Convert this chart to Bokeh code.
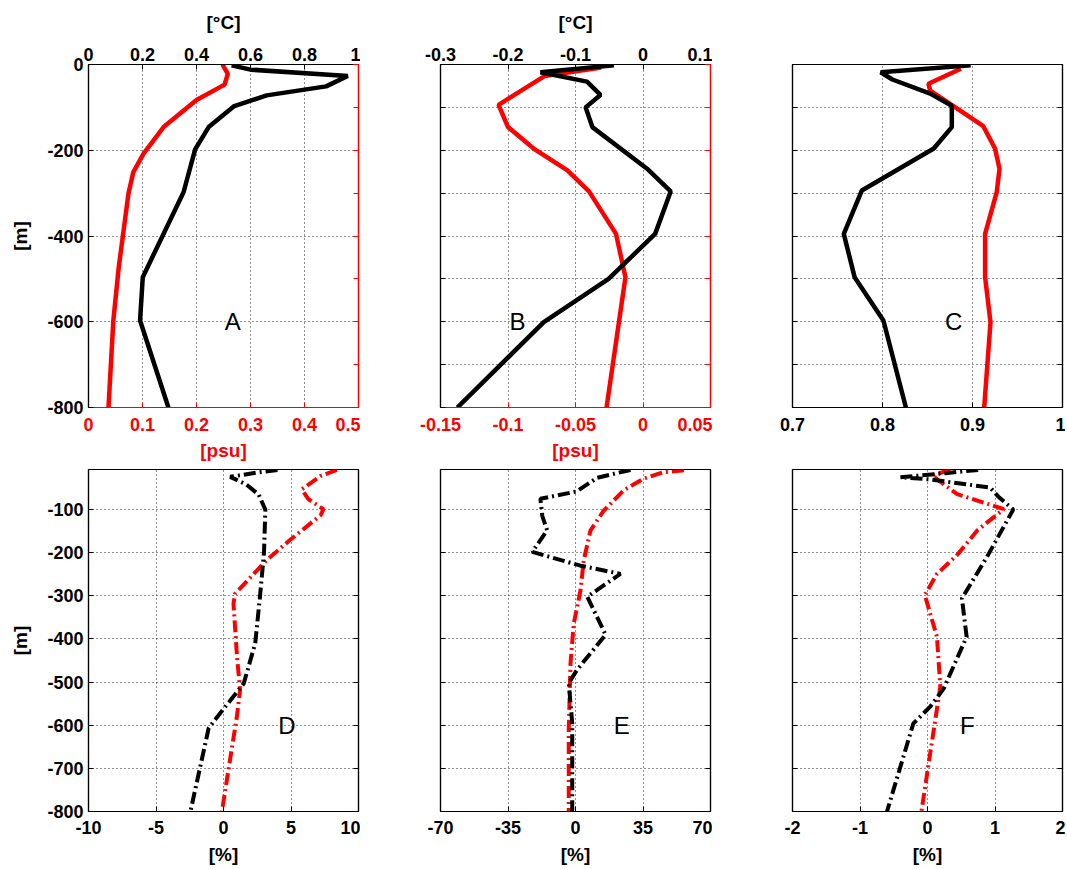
from bokeh.plotting import figure
from bokeh.models import Range1d, LinearAxis, FixedTicker, CustomJSTickFormatter, Label
from bokeh.layouts import row, column
from bokeh.embed import file_html
from bokeh.resources import INLINE

FONT = "Liberation Sans"

# ---------------- data ----------------
# Panel A
a_t_depth = [-2, -12, -27, -51, -72, -97, -146, -198, -298, -496, -597, -800]
a_t = [0.53, 0.60, 0.96, 0.88, 0.66, 0.54, 0.445, 0.395, 0.352, 0.201, 0.191, 0.296]
a_s_depth = [0, -22, -47, -83, -146, -208, -251, -301, -473, -597, -800]
a_s = [0.248, 0.258, 0.252, 0.200, 0.139, 0.102, 0.083, 0.074, 0.056, 0.046, 0.037]
# Panel B
b_t_depth = [-2, -18, -40, -71, -100, -146, -243, -296, -395, -500, -601, -800]
b_t = [-0.043, -0.152, -0.083, -0.063, -0.085, -0.075, 0.006, 0.041, 0.018, -0.051, -0.147, -0.275]
b_s_depth = [-7, -27, -94, -146, -196, -247, -296, -395, -496, -800]
b_s = [-0.031, -0.073, -0.107, -0.100, -0.081, -0.056, -0.040, -0.020, -0.013, -0.027]
# Panel C
c_t_depth = [-2, -18, -35, -68, -96, -146, -196, -294, -395, -496, -597, -800]
c_t = [0.898, 0.798, 0.811, 0.853, 0.877, 0.877, 0.857, 0.777, 0.757, 0.769, 0.801, 0.826]
c_s_depth = [-10, -45, -61, -96, -144, -196, -243, -297, -395, -496, -601, -800]
c_s = [0.887, 0.851, 0.853, 0.878, 0.912, 0.925, 0.930, 0.927, 0.914, 0.914, 0.920, 0.913]
# Panel D
d_k_depth = [-8, -14, -24, -42, -65, -100, -200, -302, -410, -503, -590, -607, -800]
d_k = [4.0, 2.5, 0.5, 1.7, 2.6, 3.1, 3.0, 2.7, 2.35, 1.5, -0.7, -1.1, -2.45]
d_r_depth = [-8, -22, -53, -76, -99, -113, -171, -217, -295, -318, -441, -518, -580, -800]
d_r = [8.4, 7.2, 5.8, 6.3, 7.4, 7.2, 4.9, 3.2, 0.86, 0.74, 1.0, 1.23, 0.99, -0.12]
# Panel E
e_k_depth = [-8, -26, -58, -75, -115, -148, -198, -230, -249, -302, -390, -471, -502, -595, -800]
e_k = [28.5, 11.3, 0.5, -18.2, -17.2, -14.7, -22.4, 2.6, 23.3, 6.1, 15.6, 0.9, -3.5, -1.7, -1.7]
e_r_depth = [-9, -13, -28, -55, -102, -148, -217, -287, -364, -457, -611, -800]
e_r = [56.2, 45.8, 35.4, 25.1, 14.7, 7.8, 4.3, 2.6, -0.9, -2.6, -3.5, -3.5]
# Panel F
f_k_depth = [-8, -15, -25, -30, -49, -70, -100, -210, -306, -395, -515, -557, -596, -800]
f_k = [0.75, 0.3, -0.4, 0.04, 0.93, 1.05, 1.27, 0.88, 0.51, 0.58, 0.24, 0.04, -0.21, -0.60]
f_r_depth = [-8, -20, -33, -64, -99, -148, -205, -249, -298, -395, -511, -665, -800]
f_r = [0.34, 0.07, 0.17, 0.44, 1.13, 0.74, 0.44, 0.14, -0.04, 0.14, 0.19, 0.04, -0.09]

# tick values
a_top_ticks = [0, 0.2, 0.4, 0.6, 0.8, 1]
a_bot_ticks = [0, 0.1, 0.2, 0.3, 0.4, 0.5]
b_top_ticks = [-0.3, -0.2, -0.1, 0, 0.1]
b_bot_ticks = [-0.15, -0.1, -0.05, 0, 0.05]
c_bot_ticks = [0.7, 0.8, 0.9, 1]
d_ticks = [-10, -5, 0, 5, 10]
e_ticks = [-70, -35, 0, 35, 70]
f_ticks = [-2, -1, 0, 1, 2]
depth_ticks_200 = [0, -200, -400, -600, -800]
depth_ticks_100 = [0, -100, -200, -300, -400, -500, -600, -700, -800]
depth_ticks_low = [-100, -200, -300, -400, -500, -600, -700, -800]

RED = "#ff0000"
FMT = "return String(Math.round(tick*1000)/1000);"


def style_axis(ax, ticks, color="black", standoff=6):
    ax.ticker = FixedTicker(ticks=ticks)
    ax.formatter = CustomJSTickFormatter(code=FMT)
    ax.axis_line_color = color
    ax.axis_line_width = 1.2
    ax.major_tick_line_color = color
    ax.major_tick_in = 5
    ax.major_tick_out = 0
    ax.minor_tick_line_color = None
    ax.major_label_text_font = FONT
    ax.major_label_text_font_style = "bold"
    ax.major_label_text_font_size = "18px"
    ax.major_label_text_color = color
    ax.major_label_standoff = standoff
    ax.axis_label_text_font = FONT
    ax.axis_label_text_font_style = "bold"
    ax.axis_label_text_font_size = "19px"
    ax.axis_label_text_color = color


def plain_axis(ax, minor, color="black"):
    # axis line with inward tick marks only (no tick labels)
    ax.ticker = FixedTicker(ticks=[], minor_ticks=minor)
    ax.axis_line_color = color
    ax.axis_line_width = 1.2
    ax.major_tick_line_color = None
    ax.minor_tick_line_color = color
    ax.minor_tick_in = 5
    ax.minor_tick_out = 0
    ax.major_label_standoff = 0


def make_fig(width, height, xr, yr, bl, br, bt, bb, ygrid_ticks):
    p = figure(width=width, height=height, x_range=Range1d(*xr), y_range=Range1d(*yr),
               output_backend="svg", toolbar_location=None,
               min_border_left=bl, min_border_right=br, min_border_top=bt, min_border_bottom=bb)
    p.outline_line_color = "black"
    p.outline_line_width = 1.2
    p.ygrid[0].ticker = FixedTicker(ticks=ygrid_ticks)
    for g in (p.xgrid[0], p.ygrid[0]):
        g.grid_line_dash = "1 3"
        g.grid_line_color = "#222222"
        g.grid_line_width = 1
    p.background_fill_color = "white"
    p.border_fill_color = "white"
    return p


def add_label(p, x, y, txt):
    p.add_layout(Label(x=x, y=y, text=txt, text_font=FONT, text_font_size="24px",
                       text_align="center", text_baseline="middle", text_color="black"))


TOP_H, BOT_H = 463, 404
W1, W2, W3 = 360, 352, 353

# ---------- Panel A ----------
pa = make_fig(W1, TOP_H, (0, 0.5), (-800, 0), 88, 2, 64, 56, depth_ticks_200)
pa.extra_x_ranges = {"t": Range1d(0, 1)}
style_axis(pa.xaxis[0], a_bot_ticks, RED, standoff=10)
pa.xaxis[0].axis_label = "[psu]"
pa.xaxis[0].axis_label_standoff = 6
style_axis(pa.yaxis[0], depth_ticks_200, standoff=5)
pa.yaxis[0].axis_label = "[m]"
pa.yaxis[0].axis_label_standoff = 13
ta = LinearAxis(x_range_name="t")
style_axis(ta, a_top_ticks, standoff=4)
ta.axis_label = "[°C]"
ta.axis_label_standoff = 12
pa.add_layout(ta, "above")
ra = LinearAxis()
plain_axis(ra, depth_ticks_100, RED)
pa.add_layout(ra, "right")
pa.line(a_s, a_s_depth, line_color=RED, line_width=4.5)
pa.line(a_t, a_t_depth, line_color="black", line_width=4.5, x_range_name="t")
add_label(pa, 0.267, -600, "A")

# ---------- Panel B ----------
pb = make_fig(W2, TOP_H, (-0.15, 0.05), (-800, 0), 80, 2, 64, 56, depth_ticks_100)
pb.extra_x_ranges = {"t": Range1d(-0.3, 0.1)}
style_axis(pb.xaxis[0], b_bot_ticks, RED, standoff=10)
pb.xaxis[0].axis_label = "[psu]"
pb.xaxis[0].axis_label_standoff = 6
plain_axis(pb.yaxis[0], depth_ticks_100)
tb = LinearAxis(x_range_name="t")
style_axis(tb, b_top_ticks, standoff=4)
tb.axis_label = "[°C]"
tb.axis_label_standoff = 12
pb.add_layout(tb, "above")
rb = LinearAxis()
plain_axis(rb, depth_ticks_100, RED)
pb.add_layout(rb, "right")
pb.line(b_s, b_s_depth, line_color=RED, line_width=4.5)
pb.line(b_t, b_t_depth, line_color="black", line_width=4.5, x_range_name="t")
add_label(pb, -0.093, -600, "B")

# ---------- Panel C ----------
pc = make_fig(W3, TOP_H, (0.7, 1.0), (-800, 0), 80, 3, 64, 56, depth_ticks_100)
style_axis(pc.xaxis[0], c_bot_ticks, standoff=10)
plain_axis(pc.yaxis[0], depth_ticks_100)
rc = LinearAxis()
plain_axis(rc, depth_ticks_100)
pc.add_layout(rc, "right")
pc.line(c_s, c_s_depth, line_color=RED, line_width=4.5)
pc.line(c_t, c_t_depth, line_color="black", line_width=4.5)
add_label(pc, 0.879, -600, "C")

DASH = "12 4 2 4"


def bottom_panel(width, xr, xticks, bl, br, show_y, k_x, k_d, r_x, r_d, lx, letter):
    p = make_fig(width, BOT_H, xr, (-800, -7), bl, br, 6, 55, depth_ticks_low)
    style_axis(p.xaxis[0], xticks, standoff=9)
    p.xaxis[0].axis_label = "[%]"
    p.xaxis[0].axis_label_standoff = 7
    if show_y:
        style_axis(p.yaxis[0], depth_ticks_low, standoff=5)
        p.yaxis[0].axis_label = "[m]"
        p.yaxis[0].axis_label_standoff = 13
    else:
        plain_axis(p.yaxis[0], depth_ticks_low)
    r = LinearAxis()
    plain_axis(r, depth_ticks_low)
    p.add_layout(r, "right")
    p.line(r_x, r_d, line_color=RED, line_width=4, line_dash=DASH)
    p.line(k_x, k_d, line_color="black", line_width=4, line_dash=DASH)
    add_label(p, lx, -600, letter)
    return p


pd_ = bottom_panel(W1, (-10, 10), d_ticks, 88, 2, True, d_k, d_k_depth, d_r, d_r_depth, 4.7, "D")
pe = bottom_panel(W2, (-70, 70), e_ticks, 80, 2, False, e_k, e_k_depth, e_r, e_r_depth, 24, "E")
pf = bottom_panel(W3, (-2, 2), f_ticks, 80, 3, False, f_k, f_k_depth, f_r, f_r_depth, 0.59, "F")

layout = column(row(pa, pb, pc), row(pd_, pe, pf))
open("out.html", "w").write(file_html(layout, INLINE))
